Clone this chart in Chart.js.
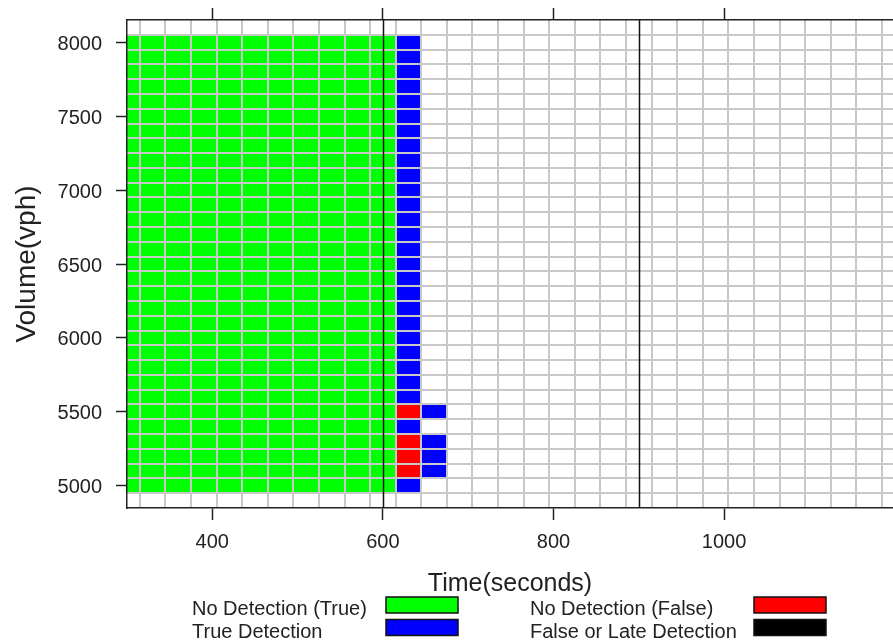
<!DOCTYPE html>
<html>
<head>
<meta charset="utf-8">
<script src="https://cdn.jsdelivr.net/npm/chart.js@4/dist/chart.umd.min.js"></script>
<style>
  html, body { margin: 0; padding: 0; background: #ffffff; overflow: hidden; }
  canvas { display: block; }
</style>
</head>
<body>
<canvas id="chart" width="893" height="642"></canvas>
<script>
// Time steps (seconds) that carry a detection state
const timeSteps = [300, 330, 360, 390, 420, 450, 480, 510, 540, 570, 600, 630, 660];

// Traffic volumes (vph), one row of cells each
const volumes = [5000, 5100, 5200, 5300, 5400, 5500, 5600, 5700, 5800, 5900,
                 6000, 6100, 6200, 6300, 6400, 6500, 6600, 6700, 6800, 6900,
                 7000, 7100, 7200, 7300, 7400, 7500, 7600, 7700, 7800, 7900, 8000];

// Detection state per volume row, one character per time step:
// G = no detection (true), B = true detection, R = no detection (false),
// K = false or late detection, . = no result
const cellRows = [
  'GGGGGGGGGGGB.', // 5000
  'GGGGGGGGGGGRB', // 5100
  'GGGGGGGGGGGRB', // 5200
  'GGGGGGGGGGGRB', // 5300
  'GGGGGGGGGGGB.', // 5400
  'GGGGGGGGGGGRB', // 5500
  'GGGGGGGGGGGB.', // 5600
  'GGGGGGGGGGGB.', // 5700
  'GGGGGGGGGGGB.', // 5800
  'GGGGGGGGGGGB.', // 5900
  'GGGGGGGGGGGB.', // 6000
  'GGGGGGGGGGGB.', // 6100
  'GGGGGGGGGGGB.', // 6200
  'GGGGGGGGGGGB.', // 6300
  'GGGGGGGGGGGB.', // 6400
  'GGGGGGGGGGGB.', // 6500
  'GGGGGGGGGGGB.', // 6600
  'GGGGGGGGGGGB.', // 6700
  'GGGGGGGGGGGB.', // 6800
  'GGGGGGGGGGGB.', // 6900
  'GGGGGGGGGGGB.', // 7000
  'GGGGGGGGGGGB.', // 7100
  'GGGGGGGGGGGB.', // 7200
  'GGGGGGGGGGGB.', // 7300
  'GGGGGGGGGGGB.', // 7400
  'GGGGGGGGGGGB.', // 7500
  'GGGGGGGGGGGB.', // 7600
  'GGGGGGGGGGGB.', // 7700
  'GGGGGGGGGGGB.', // 7800
  'GGGGGGGGGGGB.', // 7900
  'GGGGGGGGGGGB.'  // 8000
];

const statusCodes  = ['G', 'B', 'R', 'K'];
const statusLabels = ['No Detection (True)', 'True Detection', 'No Detection (False)', 'False or Late Detection'];
const statusColors = ['#00ff00', '#0000ff', '#ff0000', '#000000'];

const xTickValues = [400, 600, 800, 1000];
const yTickValues = [5000, 5500, 6000, 6500, 7000, 7500, 8000];

// Reference times marked with vertical lines
const markerTimes = [600, 900];

const TIME_STEP = 30;
const VOLUME_STEP = 100;
const X_MIN = 300, X_MAX = 1198;
const Y_MIN = 4850, Y_MAX = 8150;

const FONT = "'Liberation Sans', Arial, Helvetica, sans-serif";
const INK = '#222222';

// One dataset per detection state; each cell is a floating bar
const datasets = statusCodes.map((code, k) => {
  const data = [];
  cellRows.forEach((row, r) => {
    Array.from(row).forEach((ch, c) => {
      if (ch === code) {
        data.push({ x: timeSteps[c], y: [volumes[r] - VOLUME_STEP / 2, volumes[r] + VOLUME_STEP / 2] });
      }
    });
  });
  return {
    label: statusLabels[k],
    data,
    backgroundColor: statusColors[k],
    borderWidth: 0,
    grouped: false,
    barPercentage: 1,
    categoryPercentage: 1,
    xAxisID: 'x',
    yAxisID: 'y'
  };
});

const tickMarks = {
  display: true,
  drawOnChartArea: false,
  drawTicks: true,
  tickColor: INK,
  tickWidth: 1.5,
  offset: false,
  z: 2
};
const frame = { display: true, color: INK, width: 1.5, z: 2 };
const plainNumber = v => String(v);

// Grey lattice along the cell boundaries, drawn over the cells
const cellLattice = {
  id: 'cellLattice',
  afterDatasetsDraw(chart) {
    const { ctx, chartArea: a, scales: { x, y } } = chart;
    ctx.save();
    ctx.beginPath();
    ctx.rect(a.left, a.top, a.right - a.left, a.bottom - a.top);
    ctx.clip();
    ctx.strokeStyle = '#c8c8c8';
    ctx.lineWidth = 2;
    ctx.beginPath();
    for (let t = timeSteps[0] - TIME_STEP / 2; t <= x.max; t += TIME_STEP) {
      if (t <= x.min) continue;
      const px = Math.round(x.getPixelForValue(t));
      ctx.moveTo(px, a.top);
      ctx.lineTo(px, a.bottom);
    }
    let v0 = volumes[0] - VOLUME_STEP / 2;
    while (v0 - VOLUME_STEP > y.min) v0 -= VOLUME_STEP;
    for (let v = v0; v < y.max; v += VOLUME_STEP) {
      const py = Math.round(y.getPixelForValue(v));
      ctx.moveTo(a.left, py);
      ctx.lineTo(a.right, py);
    }
    ctx.stroke();
    ctx.restore();
  }
};

const markerLines = {
  id: 'markerLines',
  afterDraw(chart) {
    const { ctx, chartArea } = chart;
    const xs = chart.scales.x;
    ctx.save();
    ctx.strokeStyle = '#111111';
    ctx.lineWidth = 1.5;
    markerTimes.forEach(t => {
      const px = Math.round(xs.getPixelForValue(t)) + 0.5;
      ctx.beginPath();
      ctx.moveTo(px, chartArea.top);
      ctx.lineTo(px, chartArea.bottom);
      ctx.stroke();
    });
    ctx.restore();
  }
};

const statusLegend = {
  id: 'statusLegend',
  afterDraw(chart) {
    const ctx = chart.ctx;
    const cols = [{ text: 192, box: 386 }, { text: 530, box: 754 }];
    const baselines = [615, 637.5];
    ctx.save();
    ctx.font = '20px ' + FONT;
    ctx.textBaseline = 'alphabetic';
    ctx.textAlign = 'left';
    chart.data.datasets.forEach((ds, i) => {
      const col = cols[Math.floor(i / 2)];
      const base = baselines[i % 2];
      ctx.fillStyle = INK;
      ctx.fillText(ds.label, col.text, base);
      ctx.fillStyle = ds.backgroundColor;
      ctx.fillRect(col.box, base - 18, 72, 16);
      ctx.strokeStyle = '#111111';
      ctx.lineWidth = 1.5;
      ctx.strokeRect(col.box, base - 18, 72, 16);
    });
    ctx.restore();
  }
};

new Chart(document.getElementById('chart'), {
  type: 'bar',
  data: { datasets },
  options: {
    responsive: false,
    animation: false,
    events: [],
    devicePixelRatio: 1,
    layout: { padding: { top: 8, right: 0, bottom: 0, left: 0 } },
    plugins: {
      legend: { display: false },
      tooltip: { enabled: false }
    },
    scales: {
      x: {
        type: 'linear',
        position: 'bottom',
        min: X_MIN,
        max: X_MAX,
        offset: false,
        afterBuildTicks: a => { a.ticks = xTickValues.map(v => ({ value: v })); },
        afterFit: a => { a.height = 134; a.paddingLeft = 0; a.paddingRight = 0; },
        grid: Object.assign({}, tickMarks, { tickLength: 12 }),
        border: frame,
        ticks: { font: { family: FONT, size: 20 }, color: INK, padding: 10, maxRotation: 0, autoSkip: false, callback: plainNumber },
        title: {
          display: true,
          text: 'Time(seconds)',
          font: { family: FONT, size: 25 },
          color: INK,
          padding: { top: 0, bottom: 43 }
        }
      },
      xTop: {
        type: 'linear',
        position: 'top',
        min: X_MIN,
        max: X_MAX,
        offset: false,
        afterBuildTicks: a => { a.ticks = xTickValues.map(v => ({ value: v })); },
        afterFit: a => { a.height = 12; a.paddingLeft = 0; a.paddingRight = 0; },
        grid: Object.assign({}, tickMarks, { tickLength: 12 }),
        border: frame,
        ticks: { display: false }
      },
      y: {
        type: 'linear',
        position: 'left',
        min: Y_MIN,
        max: Y_MAX,
        afterBuildTicks: a => { a.ticks = yTickValues.map(v => ({ value: v })); },
        afterFit: a => { a.width = 127; a.paddingTop = 0; a.paddingBottom = 0; },
        grid: Object.assign({}, tickMarks, { tickLength: 11 }),
        border: frame,
        ticks: { font: { family: FONT, size: 20 }, color: INK, padding: 14, labelOffset: 2, autoSkip: false, callback: plainNumber },
        title: {
          display: true,
          text: 'Volume(vph)',
          font: { family: FONT, size: 28 },
          color: INK,
          padding: { top: 10, bottom: 0 }
        }
      }
    }
  },
  plugins: [cellLattice, markerLines, statusLegend]
});
</script>
</body>
</html>
